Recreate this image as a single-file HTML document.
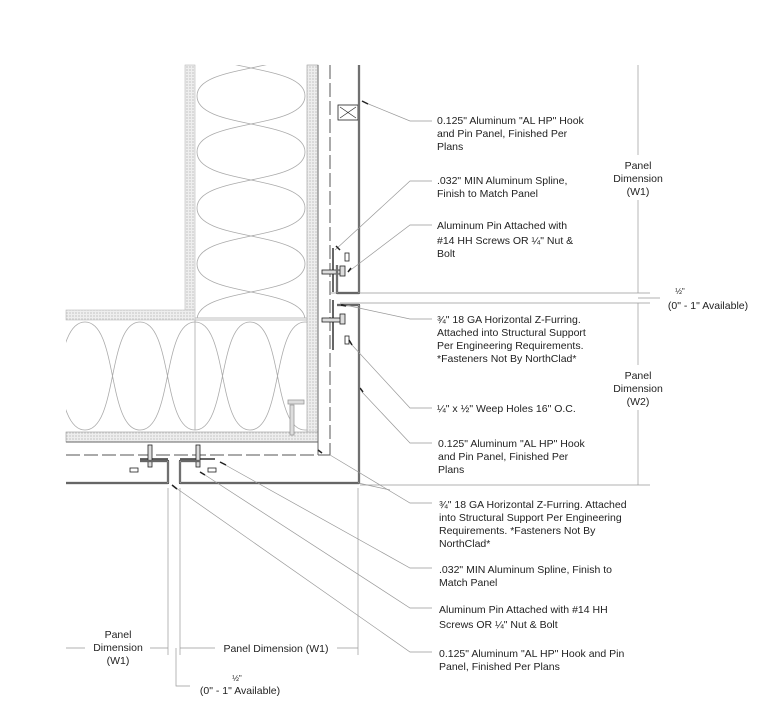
<!DOCTYPE html>
<html><head><meta charset="utf-8"><style>
body{margin:0;background:#fff}
svg{display:block}
text{font-family:"Liberation Sans",sans-serif;font-size:10.5px;fill:#222}
.c{text-anchor:middle}
</style></head><body>
<svg id="s" width="768" height="723" viewBox="0 0 768 723" xmlns="http://www.w3.org/2000/svg">
<defs>
<pattern id="dots" width="3" height="3" patternUnits="userSpaceOnUse"><rect width="3" height="3" fill="#eee"/><circle cx="1" cy="1" r="0.6" fill="#aaa"/></pattern>
<clipPath id="cu"><rect x="195" y="65" width="112" height="253"/></clipPath>
<clipPath id="cl"><rect x="66" y="320" width="241" height="112"/></clipPath>
</defs>
<rect x="185" y="65" width="10" height="245" fill="url(#dots)" stroke="#bbb" stroke-width="0.6"/>
<rect x="66" y="310" width="129" height="10" fill="url(#dots)" stroke="#bbb" stroke-width="0.6"/>
<rect x="307" y="65" width="11" height="377" fill="url(#dots)" stroke="#999" stroke-width="0.6"/>
<rect x="66" y="432" width="252" height="10" fill="url(#dots)" stroke="#999" stroke-width="0.6"/>
<line x1="318" y1="65" x2="318" y2="455" stroke="#666" stroke-width="1"/>
<line x1="66" y1="442" x2="318" y2="442" stroke="#666" stroke-width="1"/>
<g fill="none" stroke="#aaa" stroke-width="0.8">
<path id="ins1" clip-path="url(#cu)"/>
<path id="ins2" clip-path="url(#cl)"/>
<line x1="195" y1="318" x2="307" y2="318"/>
<line x1="195" y1="320" x2="195" y2="430"/>
<line x1="195" y1="320" x2="307" y2="320"/>
</g>
<line x1="330" y1="65" x2="330" y2="455" stroke="#555" stroke-width="1" stroke-dasharray="14,4"/>
<line x1="66" y1="455" x2="330" y2="455" stroke="#555" stroke-width="1" stroke-dasharray="14,4"/>
<g stroke="#333" stroke-width="1.5" fill="none">
<line x1="333" y1="248" x2="333" y2="292"/><line x1="333" y1="300" x2="333" y2="350"/>
<line x1="140" y1="459" x2="168" y2="459"/><line x1="180" y1="459" x2="215" y2="459"/>
</g>
<g fill="#ddd" stroke="#222" stroke-width="0.8">
<rect x="322" y="270" width="22" height="4"/><rect x="322" y="318" width="22" height="4"/>
<rect x="148" y="445" width="4" height="22"/><rect x="196" y="445" width="4" height="22"/>
<rect x="340" y="266" width="5" height="10"/><rect x="340" y="314" width="5" height="10"/>
<rect x="288" y="400" width="16" height="4" stroke="#999"/><rect x="290" y="405" width="4" height="30" stroke="#999"/>
<rect x="345" y="253" width="4" height="8" fill="none"/><rect x="345" y="336" width="4" height="8" fill="none"/>
<rect x="130" y="468" width="8" height="4" fill="none"/><rect x="208" y="468" width="8" height="4" fill="none"/>
<rect x="338" y="105" width="20" height="15" fill="none"/>
<path d="M340,107 L356,118 M356,107 L340,118" fill="none" stroke-width="0.6"/>
</g>
<g fill="none" stroke="#333" stroke-width="2.2" stroke-linejoin="round">
<path d="M359,65 V293 H337 V265"/>
<path d="M337,305 H359 V483 H180 V461 H200"/>
<path d="M66,483 H168 V461 H140"/>
</g>
<g fill="none" stroke="#fff" stroke-width="0.6">
<path d="M359,65 V293 H337 V265"/>
<path d="M337,305 H359 V483 H180 V461 H200"/>
<path d="M66,483 H168 V461 H140"/>
</g>
<g stroke="#999" stroke-width="0.7" fill="none">
<path d="M366,103 L410,121 H432"/>
<path d="M335,250 L410,181 H432"/>
<path d="M348,272 L410,225 H432"/>
<path d="M345,305 L410,319 H432"/>
<path d="M352,345 L410,408 H432"/>
<path d="M362,392 L410,443 H432"/>
<path d="M330,455 L410,503 H432"/>
<path d="M220,462 L410,568 H432"/>
<path d="M205,475 L410,608 H432"/>
<path d="M176,488 L410,652 H432"/>
<path d="M358,483 L390,490"/>
<line x1="638" y1="65" x2="638" y2="155"/><line x1="638" y1="200" x2="638" y2="293"/>
<line x1="638" y1="303" x2="638" y2="365"/><line x1="638" y1="410" x2="638" y2="485"/>
<line x1="330" y1="293" x2="650" y2="293"/><line x1="340" y1="303" x2="650" y2="303"/>
<line x1="638" y1="298" x2="660" y2="298"/>
<line x1="360" y1="485" x2="650" y2="485"/>
<line x1="168" y1="488" x2="168" y2="655"/><line x1="180" y1="488" x2="180" y2="655"/><line x1="358" y1="488" x2="358" y2="655"/>
<line x1="66" y1="648" x2="85" y2="648"/><line x1="150" y1="648" x2="168" y2="648"/>
<line x1="180" y1="648" x2="215" y2="648"/><line x1="337" y1="648" x2="358" y2="648"/>
<path d="M176,648 V686 H190"/>
</g>
<g stroke="#222" stroke-width="1.5">
<line x1="362" y1="101" x2="368" y2="104"/><line x1="336" y1="246" x2="340" y2="250"/><line x1="348" y1="272" x2="351" y2="268"/>
<line x1="346" y1="306" x2="341" y2="305"/><line x1="349" y1="340" x2="352" y2="345"/><line x1="360" y1="388" x2="363" y2="392"/>
<line x1="318" y1="450" x2="322" y2="453"/><line x1="220" y1="462" x2="226" y2="465"/><line x1="200" y1="472" x2="205" y2="475"/><line x1="172" y1="485" x2="177" y2="489"/>
</g>
<text x="437" y="124">0.125" Aluminum "AL HP" Hook</text>
<text x="437" y="137">and Pin Panel, Finished Per</text>
<text x="437" y="150">Plans</text>
<text x="437" y="184">.032" MIN Aluminum Spline,</text>
<text x="437" y="197">Finish to Match Panel</text>
<text x="437" y="229">Aluminum Pin Attached with</text>
<text x="437" y="244">#14 HH Screws OR ¼" Nut &amp;</text>
<text x="437" y="257">Bolt</text>
<text x="437" y="323">¾" 18 GA Horizontal Z-Furring.</text>
<text x="437" y="336">Attached into Structural Support</text>
<text x="437" y="349">Per Engineering Requirements.</text>
<text x="437" y="362">*Fasteners Not By NorthClad*</text>
<text x="437" y="412">¼" x ½" Weep Holes 16" O.C.</text>
<text x="438" y="447">0.125" Aluminum "AL HP" Hook</text>
<text x="438" y="460">and Pin Panel, Finished Per</text>
<text x="438" y="473">Plans</text>
<text x="439" y="508">¾" 18 GA Horizontal Z-Furring. Attached</text>
<text x="439" y="521">into Structural Support Per Engineering</text>
<text x="439" y="534">Requirements. *Fasteners Not By</text>
<text x="439" y="547">NorthClad*</text>
<text x="439" y="573">.032" MIN Aluminum Spline, Finish to</text>
<text x="439" y="586">Match Panel</text>
<text x="439" y="613">Aluminum Pin Attached with #14 HH</text>
<text x="439" y="628">Screws OR ¼" Nut &amp; Bolt</text>
<text x="439" y="657">0.125" Aluminum "AL HP" Hook and Pin</text>
<text x="439" y="670">Panel, Finished Per Plans</text>
<text class="c" x="638" y="169">Panel</text><text class="c" x="638" y="182">Dimension</text><text class="c" x="638" y="195">(W1)</text>
<text class="c" x="638" y="379">Panel</text><text class="c" x="638" y="392">Dimension</text><text class="c" x="638" y="405">(W2)</text>
<text class="c" x="680" y="294" style="font-size:8px">½"</text>
<text class="c" x="708" y="309">(0" - 1" Available)</text>
<text class="c" x="118" y="638">Panel</text><text class="c" x="118" y="651">Dimension</text><text class="c" x="118" y="664">(W1)</text>
<text class="c" x="276" y="652">Panel Dimension (W1)</text>
<text class="c" x="237" y="681" style="font-size:8px">½"</text>
<text class="c" x="240" y="694">(0" - 1" Available)</text>
</svg>
<script>
(function(){
  var a="",b="",L=197,R=305,p=56,y,k=0.6;
  for(var i=0;i<6;i++){
    y=40+i*p;
    var x0=(i%2)?R:L,x1=(i%2)?L:R;
    if(i==0){a+="M"+x0+","+y;b+="M"+x1+","+y;}
    a+=" C"+x0+","+(y+p*k)+" "+x1+","+(y+p*(1-k))+" "+x1+","+(y+p);
    b+=" C"+x1+","+(y+p*k)+" "+x0+","+(y+p*(1-k))+" "+x0+","+(y+p);
  }
  document.getElementById("ins1").setAttribute("d",a+" "+b);
  var c="",d="",T=322,B=430,q=55,x;
  for(var j=0;j<6;j++){
    x=30+j*q;
    var y0=(j%2)?B:T,y1=(j%2)?T:B;
    if(j==0){c+="M"+x+","+y0;d+="M"+x+","+y1;}
    c+=" C"+(x+q*k)+","+y0+" "+(x+q*(1-k))+","+y1+" "+(x+q)+","+y1;
    d+=" C"+(x+q*k)+","+y1+" "+(x+q*(1-k))+","+y0+" "+(x+q)+","+y0;
  }
  document.getElementById("ins2").setAttribute("d",c+" "+d);
})();
</script>
</body></html>
